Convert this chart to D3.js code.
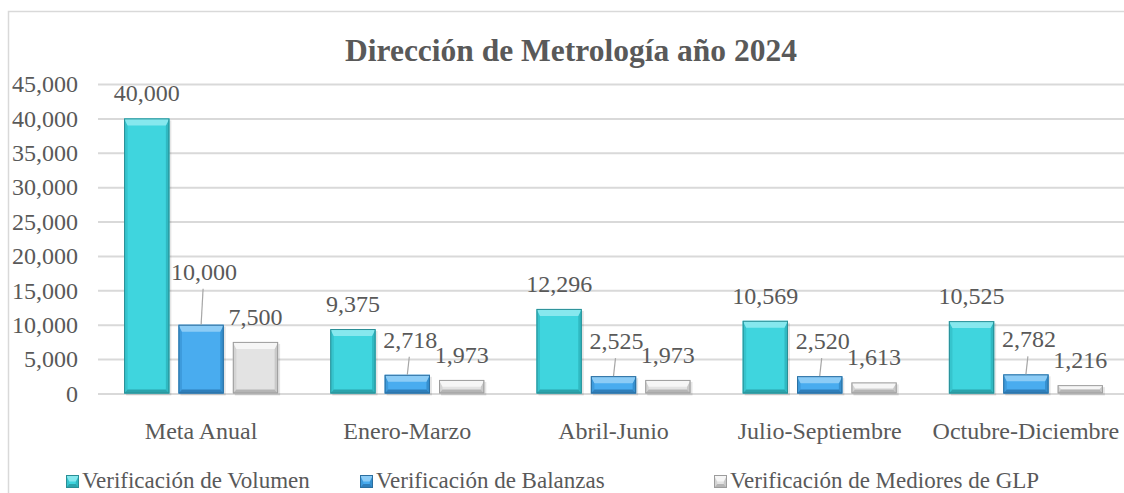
<!DOCTYPE html>
<meta charset="utf-8">
<style>
  body { margin: 0; background: #fff; }
  text { font-family: "Liberation Serif", "Times New Roman", serif; fill: #595959; }
</style>
<script src="https://d3js.org/d3.v7.min.js"></script>
<div id="chart"></div>
<script>

// data
var categories = ["Meta Anual", "Enero-Marzo", "Abril-Junio", "Julio-Septiembre", "Octubre-Diciembre"];
var seriesNames = ["Verificación de Volumen", "Verificación de Balanzas", "Verificación de Mediores de GLP"];
var volumen  = [40000, 9375, 12296, 10569, 10525];
var balanzas = [10000, 2718, 2525, 2520, 2782];
var glp      = [7500, 1973, 1973, 1613, 1216];
var yTicks   = [0, 5000, 10000, 15000, 20000, 25000, 30000, 35000, 40000, 45000];

var seriesValues = [volumen, balanzas, glp];

// look of each series: main, light top, side, dark bottom, outline
var palette = [
  { main: "#3fd5de", top: "#86e8ee", side: "#30b9c2", bottom: "#2ba4ac", line: "#2a8e95" },
  { main: "#49acef", top: "#8cccf6", side: "#3690cf", bottom: "#2f7fbb", line: "#2b6e9f" },
  { main: "#e3e3e3", top: "#f6f6f6", side: "#c9c9c9", bottom: "#b5b5b5", line: "#9c9c9c" }
];

// how far the Balanzas labels are pulled up (they get a leader line)
var leaderLift = [45, 27, 27, 27, 27];

var width = 1124, height = 493;

var svg = d3.select("#chart")
  .append("svg")
    .attr("width", width)
    .attr("height", height);

// chart frame
svg.append("rect")
  .attr("x", 8.5).attr("y", 11.5)
  .attr("width", 1200).attr("height", 600)
  .attr("fill", "none")
  .attr("stroke", "#d9d9d9")
  .attr("stroke-width", 1.5);

// title
svg.append("text")
  .attr("x", 571)
  .attr("y", 61)
  .attr("text-anchor", "middle")
  .style("font-size", "31.5px")
  .style("font-weight", "bold")
  .text("Dirección de Metrología año 2024");

// scales
var x0 = d3.scaleBand()
  .domain(categories)
  .range([98, 1129])
  .paddingInner(0.253)
  .paddingOuter(0.1265);

var x1 = d3.scaleBand()
  .domain(d3.range(seriesNames.length))
  .range([0, x0.bandwidth()])
  .paddingInner(0.167);

var y = d3.scaleLinear()
  .domain([0, 45000])
  .range([393.5, 84]);

// gridlines
svg.append("g")
  .attr("transform", "translate(98,0)")
  .call(d3.axisLeft(y).tickValues(yTicks).tickSize(-1100).tickFormat(""))
  .call(function(g){ g.select(".domain").remove(); })
  .selectAll("line")
    .attr("stroke", "#d9d9d9")
    .attr("stroke-width", 2);

// y axis labels
var yAxis = svg.append("g")
  .attr("transform", "translate(98,0)")
  .call(d3.axisLeft(y).tickValues(yTicks).tickSize(0).tickPadding(20).tickFormat(d3.format(",")));
yAxis.select(".domain").remove();
yAxis.selectAll("text")
  .attr("fill", "#595959")
  .style("font-size", "24px")
  .style("font-family", "Liberation Serif, Times New Roman, serif");

// x axis labels
var xAxis = svg.append("g")
  .attr("transform", "translate(0," + y(0) + ")")
  .call(d3.axisBottom(x0).tickSize(0).tickPadding(28));
xAxis.select(".domain").remove();
xAxis.selectAll("text")
  .attr("fill", "#595959")
  .style("font-size", "24px")
  .style("font-family", "Liberation Serif, Times New Roman, serif");

// bevelled bar
function drawBar(g, bx, by, bw, bh, c, withShadow) {
  var bt = Math.min(7, bh / 2), bb = Math.min(4, bh / 2), bs = Math.min(3.5, bw / 4);
  if (withShadow) {
    g.append("rect")
      .attr("x", bx + 2).attr("y", by + 2)
      .attr("width", bw).attr("height", bh)
      .attr("fill", "#000").attr("opacity", 0.1);
  }
  g.append("rect")
    .attr("x", bx).attr("y", by)
    .attr("width", bw).attr("height", bh)
    .attr("fill", c.main);
  var pts = function(a) { return a.map(function(p){ return p.join(","); }).join(" "); };
  // left facet
  g.append("polygon")
    .attr("points", pts([[bx, by], [bx + bs, by + bt], [bx + bs, by + bh - bb], [bx, by + bh]]))
    .attr("fill", c.side).attr("opacity", 0.6);
  // right facet
  g.append("polygon")
    .attr("points", pts([[bx + bw, by], [bx + bw - bs, by + bt], [bx + bw - bs, by + bh - bb], [bx + bw, by + bh]]))
    .attr("fill", c.side);
  // top facet
  g.append("polygon")
    .attr("points", pts([[bx, by], [bx + bw, by], [bx + bw - bs, by + bt], [bx + bs, by + bt]]))
    .attr("fill", c.top);
  // bottom facet
  g.append("polygon")
    .attr("points", pts([[bx, by + bh], [bx + bw, by + bh], [bx + bw - bs, by + bh - bb], [bx + bs, by + bh - bb]]))
    .attr("fill", c.bottom);
  g.append("rect")
    .attr("x", bx + 0.5).attr("y", by + 0.5)
    .attr("width", bw - 1).attr("height", Math.max(bh - 1, 0))
    .attr("fill", "none")
    .attr("stroke", c.line)
    .attr("stroke-width", 1);
}

// build a flat table for the bars
var rows = [];
categories.forEach(function(cat, i) {
  seriesValues.forEach(function(vals, s) {
    rows.push({ cat: cat, ci: i, s: s, value: vals[i] });
  });
});

var bars = svg.append("g");
rows.forEach(function(d) {
  var bx = x0(d.cat) + x1(d.s);
  var by = y(d.value);
  drawBar(bars.append("g"), bx, by, x1.bandwidth(), y(0) - by, palette[d.s], true);
});

// value labels
var labels = svg.append("g");
rows.forEach(function(d) {
  var cx = x0(d.cat) + x1(d.s) + x1.bandwidth() / 2;
  var top = y(d.value);
  var lift = d.s === 1 ? leaderLift[d.ci] : 17;
  var base = top - lift;
  if (d.s === 1) {
    labels.append("line")
      .attr("x1", cx + 2).attr("y1", base + 9)
      .attr("x2", cx).attr("y2", top)
      .attr("stroke", "#a6a6a6")
      .attr("stroke-width", 1.2);
  }
  labels.append("text")
    .attr("x", cx + (d.s === 1 ? 3 : 0))
    .attr("y", base)
    .attr("text-anchor", "middle")
    .style("font-size", "24px")
    .text(d3.format(",")(d.value));
});

// legend
var legend = svg.append("g");
var legendX = [66, 360, 714];
seriesNames.forEach(function(name, s) {
  var g = legend.append("g").attr("transform", "translate(" + legendX[s] + ",475)");
  drawBar(g, 0, 0, 13, 13, palette[s], false);
  g.append("text")
    .attr("x", 16)
    .attr("y", 13)
    .style("font-size", "23px")
    .text(name);
});

</script>
